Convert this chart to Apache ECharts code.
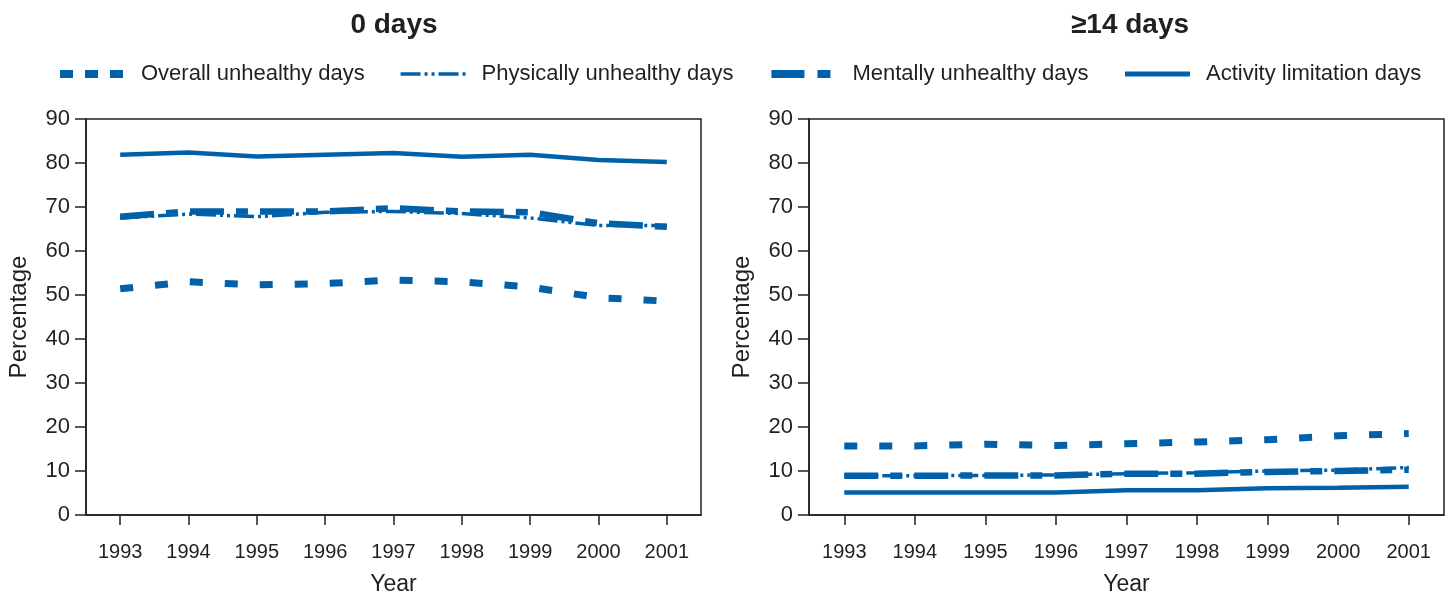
<!DOCTYPE html>
<html>
<head>
<meta charset="utf-8">
<script src="https://cdn.jsdelivr.net/npm/echarts@6/dist/echarts.min.js"></script>
<style>
  html, body { margin: 0; padding: 0; background: #fff; }
  #chart { width: 1453px; height: 596px; }
</style>
</head>
<body>
<div id="chart"></div>
<script>
// years on the x axis
const years = ['1993', '1994', '1995', '1996', '1997', '1998', '1999', '2000', '2001'];

// 0 days panel
const overall0 = [51.4, 53.0, 52.3, 52.6, 53.4, 53.0, 51.8, 49.4, 48.6];
const physical0 = [67.5, 68.4, 67.8, 68.8, 69.0, 68.5, 67.5, 65.8, 65.8];
const mental0 = [67.8, 69.0, 69.0, 69.0, 69.7, 69.0, 68.8, 66.3, 65.5];
const activity0 = [81.9, 82.4, 81.5, 81.9, 82.3, 81.4, 81.9, 80.7, 80.2];

// >=14 days panel
const overall14 = [15.7, 15.7, 16.1, 15.8, 16.2, 16.6, 17.1, 18.0, 18.5];
const physical14 = [8.9, 8.9, 9.0, 9.1, 9.4, 9.6, 10.0, 10.2, 10.8];
const mental14 = [8.9, 8.9, 9.0, 9.0, 9.4, 9.4, 9.8, 10.0, 10.3];
const activity14 = [5.1, 5.1, 5.1, 5.1, 5.6, 5.6, 6.1, 6.2, 6.4];

const blue = '#0061aa';
const ink = '#231f20';
const font = 'Liberation Sans, Arial, sans-serif';

// line looks per series (plot and legend)
const styles = {
    'Overall unhealthy days': { width: 7, type: [13, 22], legendType: [13, 12], legendWidth: 8 },
    'Physically unhealthy days': { width: 3.5, type: [20, 4, 3, 4, 3, 4], legendType: [20, 4, 3, 4, 3, 4], legendWidth: 3.5 },
    'Mentally unhealthy days': { width: 6.5, type: [34, 12, 12, 12], legendType: [33, 13, 13, 13], legendWidth: 8 },
    'Activity limitation days': { width: 4.5, type: 'solid', legendType: 'solid', legendWidth: 5 }
};

const chart = echarts.init(document.getElementById('chart'));

function makeX(gridIndex) {
    return {
        type: 'category',
        gridIndex: gridIndex,
        data: years,
        boundaryGap: true,
        name: 'Year',
        nameLocation: 'middle',
        nameGap: 58,
        nameTextStyle: { color: ink, fontSize: 23, fontFamily: font },
        axisLine: { show: true, lineStyle: { color: ink, width: 1.5 } },
        axisTick: { show: true, alignWithLabel: true, length: 10, lineStyle: { color: ink, width: 1.5 } },
        axisLabel: { color: ink, fontSize: 20, fontFamily: font, margin: 27 },
        splitLine: { show: false }
    };
}

function makeY(gridIndex) {
    return {
        type: 'value',
        gridIndex: gridIndex,
        min: 0,
        max: 90,
        interval: 10,
        name: 'Percentage',
        nameLocation: 'middle',
        nameGap: 55,
        nameTextStyle: { color: ink, fontSize: 24, fontFamily: font },
        axisLine: { show: true, lineStyle: { color: ink, width: 1.5 } },
        axisTick: { show: true, length: 11, lineStyle: { color: ink, width: 1.5 } },
        axisLabel: { color: ink, fontSize: 22, fontFamily: font, margin: 16 },
        splitLine: { show: false }
    };
}

function makeSeries(name, data, idx) {
    return {
        name: name,
        type: 'line',
        xAxisIndex: idx,
        yAxisIndex: idx,
        data: data,
        symbol: 'none',
        lineStyle: { color: blue, width: styles[name].width, type: styles[name].type, cap: 'butt' },
        itemStyle: { color: blue },
        silent: true
    };
}

chart.setOption({
    backgroundColor: '#fff',
    animation: false,
    title: [
        { text: '0 days', left: 389, top: 6, textAlign: 'center',
          textStyle: { color: ink, fontSize: 28, fontWeight: 'bold', fontFamily: font } },
        { text: '≥14 days', left: 1125, top: 6, textAlign: 'center',
          textStyle: { color: ink, fontSize: 28, fontWeight: 'bold', fontFamily: font } }
    ],
    legend: {
        left: 56,
        top: 63,
        width: 1395,
        padding: 0,
        itemWidth: 65,
        itemHeight: 14,
        itemGap: 34,
        itemStyle: { opacity: 0 },
        textStyle: { color: ink, fontSize: 22, fontFamily: font, padding: [0, 0, 0, 11] },
        data: Object.keys(styles).map(function (n) {
            return { name: n, lineStyle: { width: styles[n].legendWidth, type: styles[n].legendType, color: blue } };
        })
    },
    grid: [
        { left: 86, right: 752, top: 119, bottom: 81, outerBoundsMode: 'none',
          show: true, borderColor: ink, borderWidth: 1.5 },
        { left: 809, right: 9, top: 119, bottom: 81, outerBoundsMode: 'none',
          show: true, borderColor: ink, borderWidth: 1.5 }
    ],
    xAxis: [makeX(0), makeX(1)],
    yAxis: [makeY(0), makeY(1)],
    series: [
        makeSeries('Overall unhealthy days', overall0, 0),
        makeSeries('Physically unhealthy days', physical0, 0),
        makeSeries('Mentally unhealthy days', mental0, 0),
        makeSeries('Activity limitation days', activity0, 0),
        makeSeries('Overall unhealthy days', overall14, 1),
        makeSeries('Physically unhealthy days', physical14, 1),
        makeSeries('Mentally unhealthy days', mental14, 1),
        makeSeries('Activity limitation days', activity14, 1)
    ]
});

window.addEventListener('resize', function () { chart.resize(); });
</script>
</body>
</html>
